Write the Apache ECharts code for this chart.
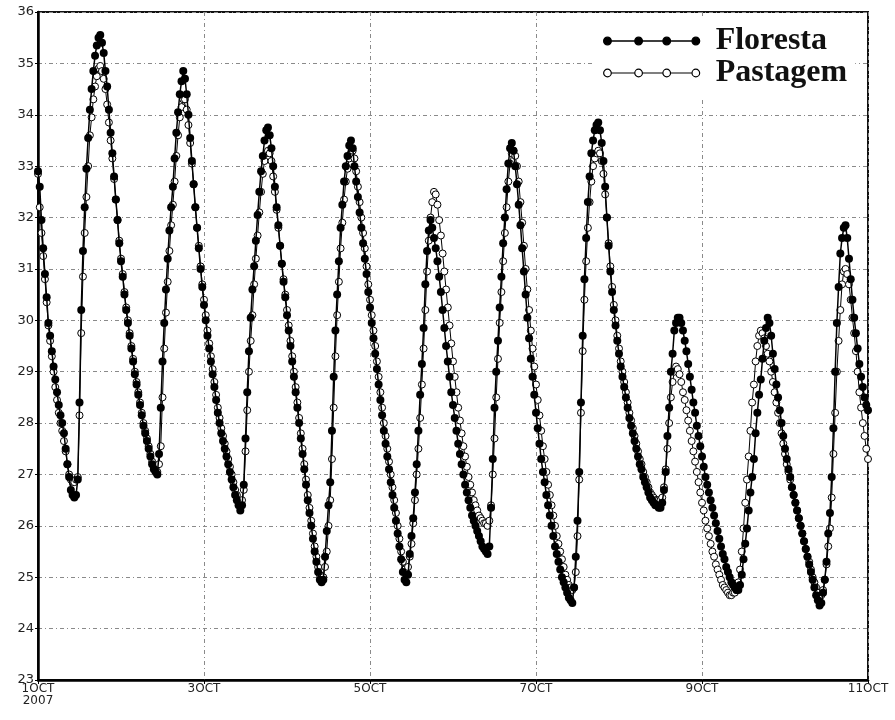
<!DOCTYPE html>
<html>
<head>
<meta charset="utf-8">
<script src="https://cdn.jsdelivr.net/npm/echarts@6/dist/echarts.min.js"></script>
<style>
  html, body { margin: 0; padding: 0; background: #fff; }
  #chart { width: 895px; height: 720px; }
</style>
</head>
<body>
<div id="chart"></div>
<script>
// half-hourly samples, 1 OCT 00h .. 11 OCT 00h (hours on the x axis)
var stepHours = 0.5;
var tickLabels = ['1OCT\n2007', '3OCT', '5OCT', '7OCT', '9OCT', '11OCT'];

var floresta = [
  32.9, 32.6, 31.95, 31.4, 30.9, 30.45, 29.95, 29.7, 29.4, 29.1,
  28.85, 28.6, 28.35, 28.15, 28.0, 27.8, 27.5, 27.2, 26.95, 26.7,
  26.6, 26.55, 26.6, 26.9, 28.4, 30.2, 31.35, 32.2, 32.95, 33.55,
  34.1, 34.5, 34.85, 35.15, 35.35, 35.5, 35.55, 35.4, 35.2, 34.85,
  34.55, 34.1, 33.65, 33.25, 32.8, 32.35, 31.95, 31.5, 31.15, 30.85,
  30.5, 30.2, 29.95, 29.7, 29.45, 29.2, 28.95, 28.75, 28.55, 28.35,
  28.15, 27.95, 27.8, 27.65, 27.5, 27.35, 27.2, 27.1, 27.05, 27.0,
  27.4, 28.3, 29.2, 29.95, 30.6, 31.2, 31.75, 32.2, 32.6, 33.15,
  33.65, 34.05, 34.4, 34.65, 34.85, 34.7, 34.4, 34.0, 33.55, 33.1,
  32.65, 32.2, 31.8, 31.4, 31.0, 30.65, 30.3, 30.0, 29.7, 29.45,
  29.2, 28.95, 28.7, 28.45, 28.2, 28.0, 27.8, 27.65, 27.5, 27.35,
  27.2, 27.05, 26.9, 26.75, 26.6, 26.5, 26.4, 26.3, 26.4, 26.8,
  27.7, 28.6, 29.4, 30.05, 30.6, 31.05, 31.55, 32.05, 32.5, 32.9,
  33.2, 33.5, 33.7, 33.75, 33.6, 33.35, 33.0, 32.6, 32.2, 31.85,
  31.45, 31.1, 30.75, 30.45, 30.1, 29.8, 29.5, 29.2, 28.9, 28.6,
  28.3, 28.0, 27.7, 27.4, 27.1, 26.8, 26.5, 26.25, 26.0, 25.75,
  25.5, 25.3, 25.1, 24.95, 24.9, 24.95, 25.4, 25.9, 26.4, 26.85,
  27.85, 28.9, 29.8, 30.5, 31.15, 31.8, 32.25, 32.7, 33.0, 33.2,
  33.4, 33.5, 33.35, 33.0, 32.7, 32.4, 32.1, 31.8, 31.5, 31.2,
  30.9, 30.55, 30.25, 29.95, 29.65, 29.35, 29.05, 28.75, 28.45, 28.15,
  27.85, 27.6, 27.35, 27.1, 26.85, 26.6, 26.35, 26.1, 25.85, 25.6,
  25.35, 25.1, 24.95, 24.9, 25.05, 25.45, 25.8, 26.15, 26.65, 27.2,
  27.85, 28.55, 29.15, 29.85, 30.7, 31.35, 31.75, 31.95, 31.8, 31.6,
  31.4, 31.15, 30.85, 30.55, 30.2, 29.85, 29.5, 29.2, 28.9, 28.6,
  28.35, 28.1, 27.85, 27.6, 27.4, 27.2, 27.0, 26.8, 26.65, 26.5,
  26.35, 26.2, 26.1, 26.0, 25.9, 25.8, 25.7, 25.6, 25.55, 25.5,
  25.45, 25.6, 26.35, 27.3, 28.3, 29.0, 29.6, 30.25, 30.85, 31.5,
  32.0, 32.55, 33.05, 33.35, 33.45, 33.3, 33.0, 32.65, 32.25, 31.85,
  31.4, 30.95, 30.5, 30.05, 29.65, 29.25, 28.9, 28.55, 28.2, 27.9,
  27.6, 27.3, 27.05, 26.85, 26.6, 26.4, 26.2, 26.0, 25.8, 25.6,
  25.45, 25.3, 25.15, 25.0, 24.9, 24.8, 24.7, 24.6, 24.55, 24.5,
  24.8, 25.4, 26.1, 27.05, 28.4, 29.7, 30.8, 31.6, 32.3, 32.8,
  33.25, 33.5, 33.7, 33.8, 33.85, 33.7, 33.45, 33.1, 32.6, 32.0,
  31.45, 30.95, 30.55, 30.2, 29.9, 29.6, 29.35, 29.1, 28.9, 28.7,
  28.5, 28.3, 28.1, 27.95, 27.8, 27.65, 27.5, 27.35, 27.2, 27.1,
  26.95, 26.85, 26.75, 26.65, 26.55, 26.5, 26.45, 26.4, 26.4, 26.35,
  26.35, 26.45, 26.7, 27.05, 27.75, 28.3, 29.0, 29.35, 29.8, 29.95,
  30.05, 30.05, 29.95, 29.8, 29.6, 29.4, 29.15, 28.9, 28.65, 28.4,
  28.2, 27.95, 27.75, 27.55, 27.35, 27.15, 26.95, 26.8, 26.65, 26.5,
  26.35, 26.2, 26.05, 25.9, 25.75, 25.6, 25.45, 25.35, 25.2, 25.1,
  25.0, 24.9, 24.85, 24.8, 24.75, 24.75, 24.85, 25.05, 25.35, 25.65,
  25.95, 26.3, 26.65, 26.95, 27.3, 27.8, 28.2, 28.55, 28.85, 29.25,
  29.6, 29.85, 30.05, 29.95, 29.7, 29.35, 29.05, 28.75, 28.5, 28.25,
  28.0, 27.75, 27.5, 27.3, 27.1, 26.95, 26.75, 26.6, 26.45, 26.3,
  26.15, 26.0, 25.85, 25.7, 25.55, 25.4, 25.25, 25.1, 24.95, 24.8,
  24.65, 24.55, 24.45, 24.5, 24.7, 24.95, 25.3, 25.85, 26.25, 26.95,
  27.9, 29.0, 29.95, 30.65, 31.3, 31.6, 31.8, 31.85, 31.6, 31.2,
  30.8, 30.4, 30.05, 29.75, 29.45, 29.15, 28.9, 28.7, 28.5, 28.35,
  28.25
];

var pastagem = [
  32.85, 32.2, 31.7, 31.25, 30.8, 30.35, 29.9, 29.6, 29.3, 29.0,
  28.7, 28.45, 28.2, 28.0, 27.85, 27.65, 27.45, 27.2, 27.0, 26.9,
  26.85, 26.85, 26.9, 26.95, 28.15, 29.75, 30.85, 31.7, 32.4, 33.0,
  33.6, 33.95, 34.3, 34.55, 34.75, 34.9, 34.95, 34.85, 34.7, 34.5,
  34.2, 33.85, 33.5, 33.15, 32.75, 32.35, 31.95, 31.55, 31.2, 30.9,
  30.55, 30.25, 30.0, 29.75, 29.5, 29.25, 29.0, 28.8, 28.6, 28.4,
  28.2, 28.0, 27.85, 27.7, 27.55, 27.4, 27.25, 27.15, 27.1, 27.05,
  27.2, 27.55, 28.5, 29.45, 30.15, 30.75, 31.35, 31.85, 32.25, 32.7,
  33.2, 33.6, 33.95, 34.15, 34.3, 34.3, 34.1, 33.8, 33.45, 33.05,
  32.65, 32.2, 31.8, 31.45, 31.05, 30.7, 30.4, 30.1, 29.8, 29.55,
  29.3, 29.05, 28.8, 28.55, 28.3, 28.1, 27.9, 27.75, 27.6, 27.45,
  27.3, 27.15, 27.0, 26.85, 26.7, 26.6, 26.5, 26.45, 26.5, 26.7,
  27.45, 28.25, 29.0, 29.6, 30.1, 30.7, 31.2, 31.65, 32.1, 32.5,
  32.85, 33.1, 33.25, 33.3, 33.25, 33.1, 32.8, 32.5, 32.15, 31.8,
  31.45, 31.1, 30.8, 30.5, 30.2, 29.9, 29.6, 29.3, 29.0, 28.7,
  28.4, 28.1, 27.8, 27.5, 27.2, 26.9, 26.6, 26.35, 26.1, 25.85,
  25.6, 25.4, 25.2, 25.05, 24.95, 25.0, 25.2, 25.5, 26.0, 26.5,
  27.3, 28.3, 29.3, 30.1, 30.75, 31.4, 31.9, 32.35, 32.7, 32.95,
  33.15, 33.25, 33.3, 33.15, 32.9, 32.6, 32.3, 32.0, 31.7, 31.4,
  31.05, 30.7, 30.4, 30.1, 29.8, 29.5, 29.2, 28.9, 28.6, 28.3,
  28.0, 27.75, 27.5, 27.25, 27.0, 26.75, 26.5, 26.25, 26.0, 25.75,
  25.5, 25.3, 25.15, 25.1, 25.2, 25.4, 25.65, 26.05, 26.5, 27.0,
  27.5, 28.1, 28.75, 29.45, 30.2, 30.95, 31.55, 32.0, 32.3, 32.5,
  32.45, 32.25, 31.95, 31.65, 31.3, 30.95, 30.6, 30.25, 29.9, 29.55,
  29.2, 28.9, 28.6, 28.3, 28.05, 27.8, 27.55, 27.35, 27.15, 26.95,
  26.8, 26.65, 26.5, 26.4, 26.3, 26.2, 26.15, 26.1, 26.05, 26.05,
  26.0, 26.1, 26.4, 27.0, 27.7, 28.5, 29.25, 29.95, 30.55, 31.15,
  31.7, 32.2, 32.7, 33.05, 33.25, 33.3, 33.2, 33.0, 32.7, 32.3,
  31.9, 31.45, 31.0, 30.6, 30.2, 29.8, 29.45, 29.1, 28.75, 28.45,
  28.15, 27.85, 27.55, 27.3, 27.05, 26.8, 26.6, 26.4, 26.2, 26.0,
  25.8, 25.65, 25.5, 25.35, 25.2, 25.05, 24.95, 24.85, 24.8, 24.75,
  24.8, 25.1, 25.8, 26.9, 28.2, 29.4, 30.4, 31.15, 31.8, 32.3,
  32.7, 33.0, 33.15, 33.25, 33.3, 33.25, 33.1, 32.85, 32.45, 32.0,
  31.5, 31.05, 30.65, 30.3, 30.0, 29.7, 29.45, 29.2, 29.0, 28.8,
  28.6, 28.4, 28.2, 28.05, 27.9, 27.75, 27.6, 27.45, 27.3, 27.2,
  27.05, 26.95, 26.85, 26.75, 26.65, 26.6, 26.55, 26.5, 26.5, 26.5,
  26.5, 26.55, 26.75, 27.1, 27.5, 28.0, 28.5, 28.8, 29.0, 29.1,
  29.05, 28.95, 28.8, 28.6, 28.45, 28.25, 28.05, 27.85, 27.65, 27.45,
  27.25, 27.05, 26.85, 26.65, 26.45, 26.3, 26.1, 25.95, 25.8, 25.65,
  25.5, 25.4, 25.25, 25.15, 25.05, 24.95, 24.85, 24.8, 24.75, 24.7,
  24.65, 24.65, 24.7, 24.7, 24.75, 24.9, 25.15, 25.5, 25.95, 26.45,
  26.9, 27.35, 27.85, 28.4, 28.75, 29.2, 29.5, 29.7, 29.8, 29.75,
  29.65, 29.5, 29.35, 29.2, 29.0, 28.8, 28.6, 28.4, 28.2, 28.0,
  27.8, 27.6, 27.4, 27.2, 27.05, 26.9, 26.75, 26.6, 26.45, 26.3,
  26.15, 26.0, 25.85, 25.7, 25.55, 25.4, 25.3, 25.15, 25.0, 24.9,
  24.8, 24.7, 24.6, 24.65, 24.75, 24.95, 25.25, 25.6, 25.95, 26.55,
  27.4, 28.2, 29.0, 29.6, 30.2, 30.7, 30.95, 31.0, 30.9, 30.7,
  30.4, 30.05, 29.75, 29.4, 29.0, 28.6, 28.3, 28.0, 27.75, 27.5,
  27.3
];

function toPairs(arr) {
  return arr.map(function (v, i) { return [i * stepHours, v]; });
}

// four dots joined by a line, as in the original key
var keyIcon = 'path://' +
  'M0.2,4A3.8,3.8 0 1,0 7.8,4A3.8,3.8 0 1,0 0.2,4Z' +
  'M31.2,4A3.8,3.8 0 1,0 38.8,4A3.8,3.8 0 1,0 31.2,4Z' +
  'M59.2,4A3.8,3.8 0 1,0 66.8,4A3.8,3.8 0 1,0 59.2,4Z' +
  'M88.2,4A3.8,3.8 0 1,0 95.8,4A3.8,3.8 0 1,0 88.2,4Z' +
  'M7.8,4L31.2,4M38.8,4L59.2,4M66.8,4L88.2,4';

var chart = echarts.init(document.getElementById('chart'));

chart.setOption({
  animation: false,
  backgroundColor: '#fff',
  grid: {
    left: 38,
    right: 27,
    top: 12,
    bottom: 40,
    show: true,
    borderColor: '#111',
    borderWidth: 2
  },
  legend: {
    orient: 'vertical',
    left: 595,
    top: 17,
    padding: 8,
    itemGap: 0,
    itemWidth: 96,
    itemHeight: 8,
    backgroundColor: '#fff',
    selectedMode: false,
    textStyle: {
      fontFamily: 'Liberation Serif',
      fontWeight: 'bold',
      fontSize: 32,
      lineHeight: 31,
      color: '#111',
      padding: [0, 0, 0, 11]
    },
    data: [
      { name: 'Floresta', icon: keyIcon, itemStyle: { color: '#000', borderColor: '#000', borderWidth: 1.3 } },
      { name: 'Pastagem', icon: keyIcon, itemStyle: { color: '#fff', borderColor: '#000', borderWidth: 1.2 } }
    ]
  },
  xAxis: {
    type: 'value',
    min: 0,
    max: 240,
    interval: 48,
    axisLine: { lineStyle: { color: '#000', width: 2.5 } },
    axisTick: { show: true, length: 4, lineStyle: { color: '#000' } },
    axisLabel: {
      margin: 3,
      fontFamily: 'DejaVu Sans',
      fontSize: 12,
      lineHeight: 12,
      color: '#222',
      formatter: function (v) { return tickLabels[Math.round(v / 48)]; }
    },
    splitLine: { show: true, lineStyle: { color: '#8a8a8a', width: 1, type: [4, 3, 1, 3] } }
  },
  yAxis: {
    type: 'value',
    min: 23,
    max: 36,
    interval: 1,
    axisLine: { show: true, lineStyle: { color: '#000', width: 2.5 } },
    axisTick: { show: true, length: 3, lineStyle: { color: '#000' } },
    axisLabel: {
      margin: 4,
      fontFamily: 'DejaVu Sans',
      fontSize: 13,
      color: '#222'
    },
    splitLine: { show: true, lineStyle: { color: '#8a8a8a', width: 1, type: [4, 3, 1, 3] } }
  },
  series: [
    {
      name: 'Pastagem',
      type: 'line',
      data: toPairs(pastagem),
      symbol: 'circle',
      symbolSize: 7,
      itemStyle: { color: '#fff', borderColor: '#000', borderWidth: 1 },
      lineStyle: { color: '#000', width: 1 },
      z: 2
    },
    {
      name: 'Floresta',
      type: 'line',
      data: toPairs(floresta),
      symbol: 'circle',
      symbolSize: 8,
      itemStyle: { color: '#000' },
      lineStyle: { color: '#000', width: 1.5 },
      z: 3
    }
  ]
});
</script>
</body>
</html>
